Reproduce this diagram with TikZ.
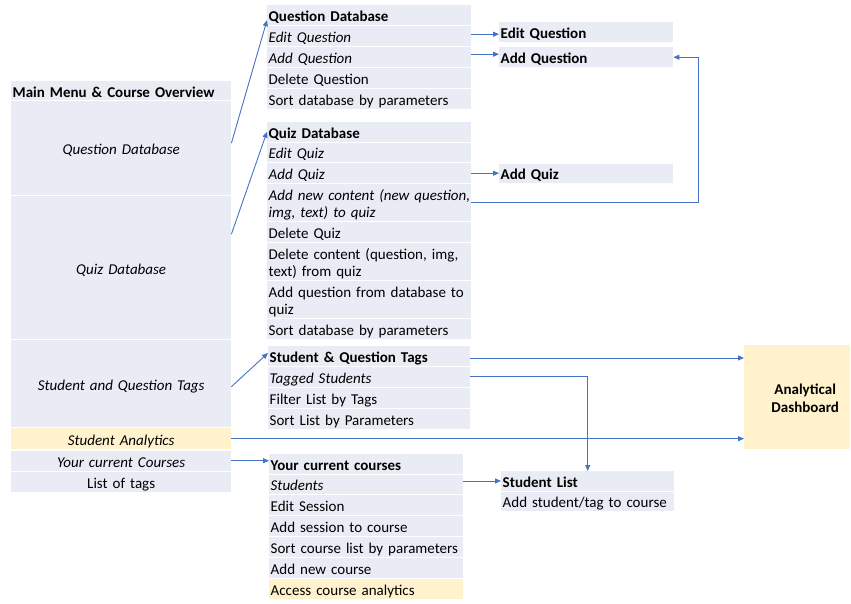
\documentclass[tikz,border=0pt]{standalone}
\usepackage{fontspec}
\setmainfont{Carlito}
\usetikzlibrary{arrows.meta}
\definecolor{cellc}{HTML}{E9EBF5}
\definecolor{yel}{HTML}{FFF2CC}
\definecolor{arrc}{HTML}{4472C4}
\newcommand\mystrut{\rule[-3pt]{0pt}{19pt}}
\newcommand\mycellsetup{\lineskiplimit=-20pt\relax\lineskip=0pt\relax\mystrut}
\begin{document}
\begin{tikzpicture}[x=1pt,y=-1pt,
  cell/.style={fill=cellc, anchor=north west, inner xsep=1.5pt, inner ysep=0pt, align=left, font=\fontsize{15}{17.5}\selectfont, execute at begin node={\mycellsetup}},
  ctr/.style={align=center},
  yl/.style={fill=yel},
  arr/.style={draw=arrc, line width=0.9pt, -{Triangle[length=6pt,width=5pt]}}]
\useasboundingbox (0,0) rectangle (851,603);
% left column
\node[cell, text width=217pt, minimum height=19pt] (mm) at (11,81) {\bfseries Main Menu \& Course Overview};
\node[cell, ctr, text width=217pt, minimum height=94pt] (qdb) at (11,101) {\itshape Question Database};
\node[cell, ctr, text width=217pt, minimum height=143pt] (quiz) at (11,196) {\itshape Quiz Database};
\node[cell, ctr, text width=217pt, minimum height=87pt] (tags) at (11,340) {\itshape Student and Question Tags};
\node[cell, ctr, yl, text width=217pt, minimum height=21pt] (sa) at (11,428) {\itshape Student Analytics};
\node[cell, ctr, text width=217pt, minimum height=20pt] (ycc) at (11,450.5) {\itshape Your current Courses};
\node[cell, ctr, text width=217pt, minimum height=20pt] (lot) at (11,471.5) {List of tags};
% question database group
\node[cell, text width=201pt, minimum height=20pt] (qh) at (267,5) {\bfseries Question Database};
\node[cell, text width=201pt, minimum height=20pt] (qe) at (267,26) {\itshape Edit Question};
\node[cell, text width=201pt, minimum height=20pt] (qa) at (267,47) {\itshape Add Question};
\node[cell, text width=201pt, minimum height=20pt] (qd) at (267,68) {Delete Question};
\node[cell, text width=201pt, minimum height=20pt] (qs) at (267,89) {Sort database by parameters};
% quiz database group
\node[cell, text width=201pt, minimum height=20pt] (zh) at (267,121.5) {\bfseries Quiz Database};
\node[cell, text width=201pt, minimum height=19.5pt] (ze) at (267,142.5) {\itshape Edit Quiz};
\node[cell, text width=201pt, minimum height=20pt] (za) at (267,163) {\itshape Add Quiz};
\node[cell, text width=201pt, minimum height=37pt] (zn) at (267,184) {\itshape \mbox{Add new content (new question,}\\ \mystrut img, text) to quiz};
\node[cell, text width=201pt, minimum height=20pt] (zd) at (267,222) {Delete Quiz};
\node[cell, text width=201pt, minimum height=37pt] (zc) at (267,243) {\mbox{Delete content (question, img,}\\ \mystrut text) from quiz};
\node[cell, text width=201pt, minimum height=37pt] (zq) at (267,281) {\mbox{Add question from database to}\\ \mystrut quiz};
\node[cell, text width=201pt, minimum height=20pt] (zs) at (267,319) {Sort database by parameters};
% tags group
\node[cell, text width=199pt, minimum height=19.5pt] (th) at (268,346) {\bfseries Student \& Question Tags};
\node[cell, text width=199pt, minimum height=20pt] (tt) at (268,366.5) {\itshape Tagged Students};
\node[cell, text width=199pt, minimum height=20pt] (tf) at (268,387.5) {Filter List by Tags};
\node[cell, text width=199pt, minimum height=20pt] (ts) at (268,408.5) {Sort List by Parameters};
% courses group
\node[cell, text width=191pt, minimum height=19.5pt] (ch) at (269,454) {\bfseries Your current courses};
\node[cell, text width=191pt, minimum height=19.5pt] (cs) at (269,474.5) {\itshape Students};
\node[cell, text width=191pt, minimum height=20pt] (ce) at (269,495) {Edit Session};
\node[cell, text width=191pt, minimum height=20pt] (ca) at (269,516) {Add session to course};
\node[cell, text width=191pt, minimum height=20pt] (cso) at (269,537) {Sort course list by parameters};
\node[cell, text width=191pt, minimum height=20pt] (cn) at (269,558) {Add new course};
\node[cell, yl, text width=191pt, minimum height=20pt] (cy) at (269,579) {Access course analytics};
% right boxes
\node[cell, text width=171pt, minimum height=20pt] (eq) at (499,22) {\bfseries Edit Question};
\node[cell, text width=171pt, minimum height=20pt] (aq) at (499,47) {\bfseries Add Question};
\node[cell, text width=171pt, minimum height=19.5pt] (aqz) at (499,163.5) {\bfseries Add Quiz};
\node[cell, text width=170pt, minimum height=19.5pt] (sl) at (501,471) {\bfseries Student List};
\node[cell, text width=170pt, minimum height=19.5pt] (sla) at (501,491.5) {Add student/tag to course};
\node[cell, yl, ctr, text width=103pt, minimum height=104pt] (db) at (744,345) {\bfseries\hspace*{16pt}Analytical\\ \mystrut\bfseries\hspace*{16pt}Dashboard};
% connectors
\draw[arr] ([yshift=5pt]qdb.east) -- ([yshift=-5pt]qh.west);
\draw[arr] ([yshift=33.5pt]quiz.east) -- (zh.west);
\draw[arr] ([yshift=-3pt]tags.east) -- ([yshift=3pt]th.west);
\draw[arr] ([yshift=2pt]qe.east) -- ([yshift=2pt]qe.east -| eq.west);
\draw[arr] ([yshift=3pt]qa.east) -- ([yshift=3pt]qa.east -| aq.west);
\draw[arr] (za.east) -- (za.east -| aqz.west);
\draw[arr] (zn.east) -| ([xshift=25pt]aq.east) -- (aq.east);
\draw[arr] ([yshift=-2pt]th.east) -- ([yshift=-2pt]th.east -| db.west);
\draw[arr] (tt.east) -| (sl.north);
\draw[arr] (sa.east) -- (sa.east -| db.west);
\draw[arr] (ycc.east) -- (ycc.east -| ch.west);
\draw[arr] (cs.east |- sl.west) -- (sl.west);
\end{tikzpicture}
\end{document}
